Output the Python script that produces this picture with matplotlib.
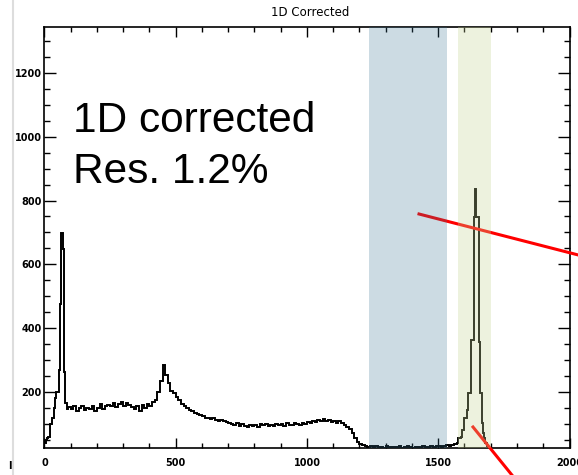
import numpy as np
import matplotlib
matplotlib.use("Agg")
import matplotlib.pyplot as plt
from matplotlib.lines import Line2D
from matplotlib.ticker import FixedLocator, MultipleLocator

# Channel spectrum, kept as three runs of bins with their own bin widths
low_start = 0
low_width = 5
counts_low = [40, 50, 55, 60, 100, 100, 120, 149, 181, 201,
              201, 269, 475, 699, 647, 264, 165, 148]

mid_width = 10
counts_mid = [
    152, 146, 158, 140, 150, 155, 143, 151,
    148, 157, 141, 150, 162, 146, 155, 160,
    158, 166, 152, 163, 170, 157, 165, 160, 154,
    148, 156, 142, 160, 151, 163, 158, 168, 175,
    200, 235, 285, 255, 228, 205, 198, 186, 175, 162,
    158, 150, 145, 141, 136, 133, 128, 125, 120, 118,
    116, 119, 113, 110, 114, 108, 106, 104,
    101, 97, 104, 93, 99, 95, 90, 97, 94,
    98, 92, 99, 96, 101, 94, 98, 93, 100, 97,
    99, 95, 102, 98, 96, 103, 100, 97, 104, 101,
    106, 103, 109, 105, 113, 110, 116, 108, 112, 106,
    110, 104, 108, 102, 98, 92, 85, 72, 55, 44, 38, 33, 30, 29,
    30, 28, 31, 27, 29, 26, 30, 28, 27, 29, 27, 31, 26, 28, 30, 27,
    26, 29, 28, 26, 30, 27, 29, 31, 28, 30, 32, 29, 31, 33, 32, 35, 38,
]

peak_width = 5
counts_peak = [40, 55, 55, 60, 81, 81, 118, 118, 144, 196,
               196, 363, 363, 749, 836, 749, 749, 358, 196, 102,
               71, 55, 40, 32, 26, 18, 8, 0]

# Shaded channel windows
window_blue = (1236, 1534)
window_green = (1576, 1700)

title_text = "1D Corrected"
note_lines = ["1D corrected", "Res. 1.2%"]
xticks = [0, 500, 1000, 1500, 2000]
yticks = [200, 400, 600, 800, 1000, 1200]

# Assemble bin edges from the three runs
edges_low = low_start + low_width * np.arange(len(counts_low) + 1)
edges_mid = edges_low[-1] + mid_width * np.arange(1, len(counts_mid) + 1)
edges_peak = edges_mid[-1] + peak_width * np.arange(1, len(counts_peak) + 1)
edges = np.concatenate([edges_low, edges_mid, edges_peak])
counts = np.array(counts_low + counts_mid + counts_peak, dtype=float)

W, H = 578, 475
fig = plt.figure(figsize=(W / 100, H / 100), dpi=100)
fig.patch.set_facecolor("white")


def fx(px):
    return px / W


def fy(py):
    return 1 - py / H


ax = fig.add_axes([fx(44.4), fy(448), fx(569.5) - fx(44.4), fy(26.5) - fy(448)])
ax.stairs(counts, edges, color="black", lw=1.4, baseline=None, zorder=2)

ax.set_xlim(0, 2000)
ax.set_ylim(25, 1345)

ax.xaxis.set_major_locator(FixedLocator(xticks))
ax.xaxis.set_minor_locator(MultipleLocator(100))
ax.yaxis.set_major_locator(FixedLocator(yticks))
ax.yaxis.set_minor_locator(MultipleLocator(50))
ax.tick_params(which="both", direction="in", top=True, right=True,
               color="black", width=1)
ax.tick_params(axis="x", which="major", length=7, pad=7, labelsize=7)
ax.tick_params(axis="x", which="minor", length=3.5)
ax.tick_params(axis="y", which="major", length=8.4, pad=2, labelsize=7)
ax.tick_params(axis="y", which="minor", length=4.3)
for lab in ax.get_xticklabels() + ax.get_yticklabels():
    lab.set_fontweight("bold")
for sp in ax.spines.values():
    sp.set_linewidth(1.2)

# Pointer lines running across the plot and off the page
for (x0, y0), (x1, y1) in [((419, 214), (590, 258)), ((473, 427), (520, 485))]:
    ax.add_line(Line2D([fx(x0), fx(x1)], [fy(y0), fy(y1)], transform=fig.transFigure,
                       color="#ff0000", lw=2.2, clip_on=False, zorder=3))

# Translucent window overlays
ax.axvspan(*window_blue, color=(55 / 255, 115 / 255, 147 / 255), alpha=0.25,
           lw=0, zorder=5)
ax.axvspan(*window_green, color="#c6d494", alpha=0.3, lw=0, zorder=5)

fig.text(fx(310), fy(12), title_text, ha="center", va="center", fontsize=8.5)
fig.text(fx(72.7), fy(131.7), note_lines[0], fontsize=30.5,
         family="Liberation Sans", va="baseline")
fig.text(fx(72.7), fy(183.3), note_lines[1], fontsize=30.5,
         family="Liberation Sans", va="baseline")
fig.text(fx(10), fy(466), "I", ha="center", va="center", fontsize=7,
         fontweight="bold")

fig.add_artist(Line2D([fx(13), fx(13)], [0, 1], color="#dddddd", lw=1.5))

fig.savefig("out.png", dpi=100)
